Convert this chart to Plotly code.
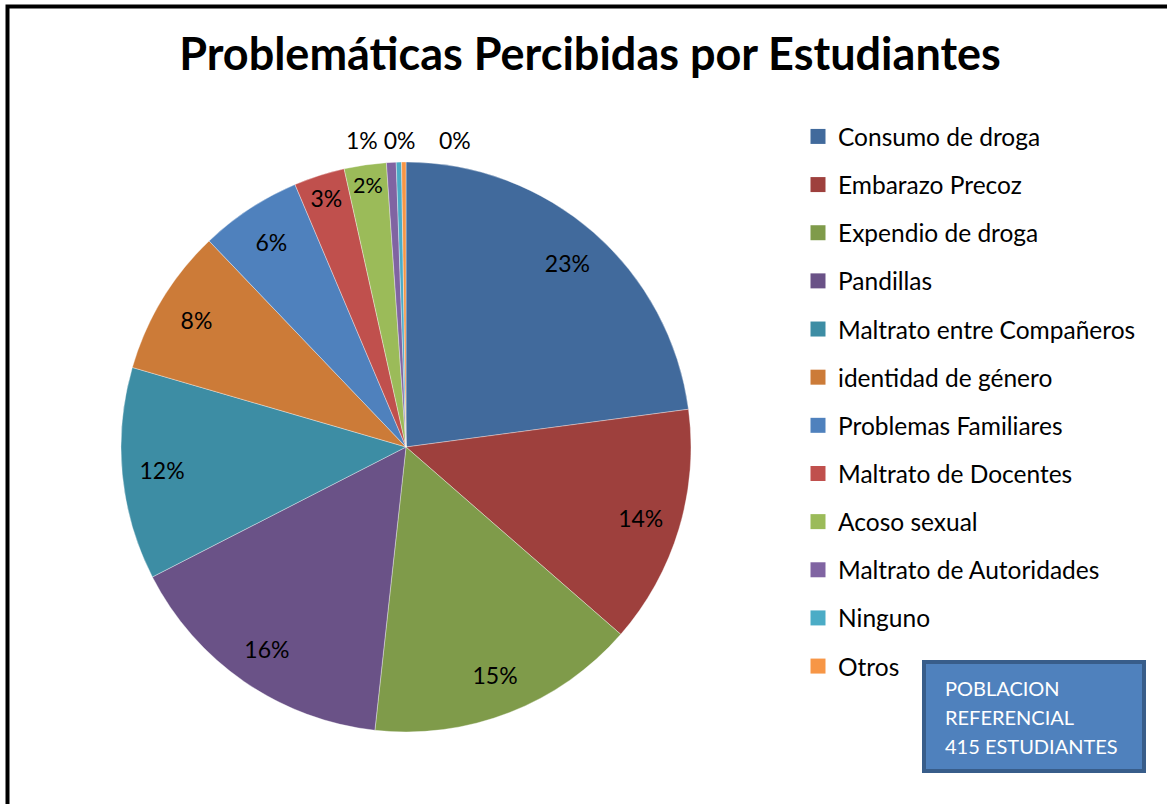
import math
import plotly.graph_objects as go

categories = ["Consumo de droga", "Embarazo Precoz", "Expendio de droga", "Pandillas",
              "Maltrato entre Compañeros", "identidad de género", "Problemas Familiares",
              "Maltrato de Docentes", "Acoso sexual", "Maltrato de Autoridades", "Ninguno", "Otros"]
values = [23.0, 13.6, 15.4, 15.8, 12.1, 8.4, 5.8, 2.9, 2.4, 0.55, 0.3, 0.25]
colors = ["#416A9C", "#9E403D", "#7F9B4A", "#6A5287", "#3D8DA4", "#CC7B38",
          "#4F81BD", "#C0504D", "#9BBB59", "#8064A2", "#4BACC6", "#F79646"]
title_text = "Problemáticas Percibidas por Estudiantes"
note_lines = ["POBLACION", "REFERENCIAL", "415 ESTUDIANTES"]

W, H = 1167, 804
FONT = "Lato"
N_BIG = 9  # slices labelled inside; the rest share one outside label row

# percentage labels computed from the values
total = sum(values)
pct_labels = [f"{round(v / total * 100)}%" for v in values]
NBSP = "\u00a0"
slice_text = pct_labels[:N_BIG] + [""] * (len(values) - N_BIG)
text_positions = ["inside"] * N_BIG + ["none"] * (len(values) - N_BIG)

# pie placement (pixels)
PX0, PX1, PY0, PY1 = 121, 691, 162, 732
domain = dict(x=[PX0 / W, PX1 / W], y=[(H - PY1) / H, (H - PY0) / H])

fig = go.Figure()
# coloured slices
fig.add_trace(go.Pie(
    labels=categories, values=values, sort=False, direction="clockwise", rotation=0,
    marker=dict(colors=colors, line=dict(color="rgba(255,255,255,0.6)", width=0.6)),
    textinfo="none", showlegend=False, domain=domain,
))
# label layer: same slices, transparent, labels set in the outer ring
fig.add_trace(go.Pie(
    labels=categories, values=values, sort=False, direction="clockwise", rotation=0,
    hole=0.72,
    marker=dict(colors=["rgba(0,0,0,0)"] * len(values), line=dict(width=0)),
    text=slice_text, textinfo="text", textposition=text_positions,
    insidetextorientation="horizontal",
    textfont=dict(family=FONT, size=23, color="black"),
    showlegend=False, hoverinfo="skip", domain=domain,
))

# outside label row for the tiny slices, placed at their mid angle
cx, cy, R = (PX0 + PX1) / 2, (PY0 + PY1) / 2, (PX1 - PX0) / 2
frac_mid = (sum(values[:N_BIG]) + sum(values[N_BIG:]) / 2) / total
theta = 2 * math.pi * frac_mid
r_lab = R + 22
lx, ly = cx + r_lab * math.sin(theta), cy - r_lab * math.cos(theta)
small_row = pct_labels[N_BIG] + NBSP + pct_labels[N_BIG + 1] + NBSP * 4 + pct_labels[N_BIG + 2]
fig.add_annotation(x=lx / W, y=1 - ly / H, xref="paper", yref="paper", xshift=13,
                   xanchor="center", yanchor="middle", showarrow=False, text=small_row,
                   font=dict(family=FONT, size=23, color="black"))

for cat, col in zip(categories, colors):
    fig.add_trace(go.Scatter(
        x=[None], y=[None], mode="markers", name=cat, legendgroup=cat,
        marker=dict(symbol="square", size=15, color=col), showlegend=True,
    ))

fig.update_layout(
    width=W, height=H, margin=dict(l=0, r=0, t=0, b=0),
    paper_bgcolor="white", plot_bgcolor="white",
    xaxis=dict(visible=False), yaxis=dict(visible=False),
    font=dict(family=FONT, color="black"),
    title=dict(text="<b>" + title_text + "</b>", x=590 / W, xanchor="center",
               y=1 - 54 / H, yanchor="middle", font=dict(family=FONT, size=45, color="black")),
    legend=dict(x=798 / W, y=1 - 114 / H, xanchor="left", yanchor="top",
                traceorder="grouped", tracegroupgap=13.3, font=dict(family=FONT, size=24.5),
                bgcolor="rgba(0,0,0,0)"),
    shapes=[
        dict(type="rect", xref="paper", yref="paper", x0=7.5 / W, x1=1.2, y0=-0.2, y1=1 - 6.5 / H,
             line=dict(color="black", width=4), fillcolor="rgba(0,0,0,0)", layer="below"),
        dict(type="rect", xref="paper", yref="paper", x0=924 / W, x1=1144 / W,
             y0=1 - 771 / H, y1=1 - 662 / H,
             line=dict(color="#385D8A", width=4), fillcolor="#4F81BD"),
    ],
)
for i, line in enumerate(note_lines):
    fig.add_annotation(x=943 / W, y=1 - (688 + 29 * i) / H, xref="paper", yref="paper",
                       xanchor="left", yanchor="middle", showarrow=False, text=line,
                       font=dict(family=FONT, size=20, color="white"))

fig.write_html("out.html", config={"displayModeBar": False},
               post_script="document.body.style.margin='0';")
